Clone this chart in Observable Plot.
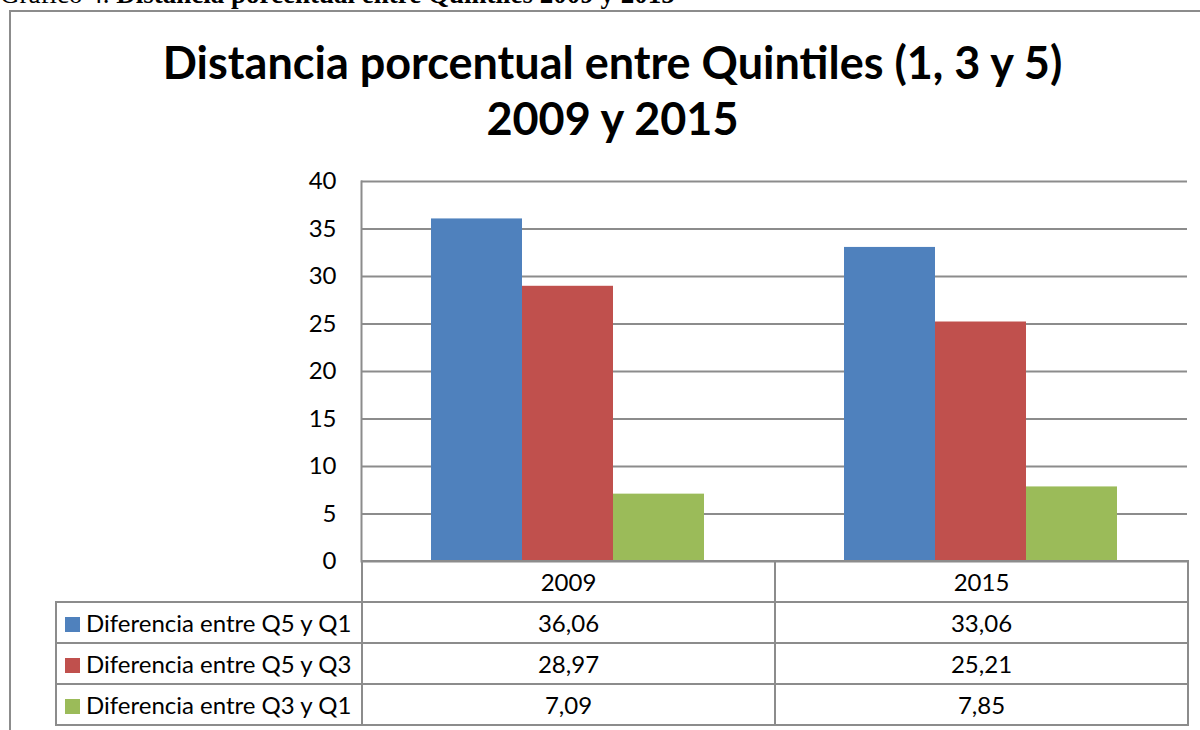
<!DOCTYPE html>
<html><head><meta charset="utf-8">
<script src="https://cdn.jsdelivr.net/npm/d3@7"></script>
<script src="https://cdn.jsdelivr.net/npm/@observablehq/plot@0.6"></script>
<style>
html,body{margin:0;padding:0;background:#fff;width:1200px;height:730px;overflow:hidden;position:relative;}
#top{position:absolute;left:0;top:-21px;font-family:"Liberation Serif",serif;font-size:27px;line-height:30px;color:#000;white-space:nowrap;}
#box{position:absolute;left:9px;top:10px;width:1200px;height:740px;border-left:2px solid #8c8c8c;border-top:2px solid #8c8c8c;box-sizing:border-box;background:#fff;}
#title{position:absolute;left:0;width:1225px;top:34px;text-align:center;font-family:Lato,"Open Sans",sans-serif;font-weight:bold;font-size:45px;line-height:56px;color:#000;}
#chart{position:absolute;left:0;top:170px;}
#tbl{position:absolute;left:55px;top:560px;border-collapse:collapse;font-family:Lato,"Open Sans",sans-serif;font-size:24px;color:#000;table-layout:fixed;}
#tbl tr{height:41px;}
#tbl td{border:2px solid #8c8c8c;padding:0;text-align:center;}
#tbl td.lab{text-align:left;padding-left:8px;white-space:nowrap;}
#tbl td.blank{border-top:none;border-left:none;}
.sw{display:inline-block;width:15px;height:15px;margin-right:6px;vertical-align:0px;}
</style></head>
<body>
<div id="box"></div>
<div id="top">Gráfico 4. <b>Distancia porcentual entre Quintiles 2009 y 2015</b></div>
<div id="title">Distancia porcentual entre Quintiles (1, 3 y 5)<br>2009 y 2015</div>
<div id="chart"></div>
<table id="tbl"></table>
<script>
const years = ["2009", "2015"];
const series = ["Diferencia entre Q5 y Q1", "Diferencia entre Q5 y Q3", "Diferencia entre Q3 y Q1"];
const colors = ["#4F81BD", "#C0504D", "#9BBB59"];
const values2009 = [36.06, 28.97, 7.09];
const values2015 = [33.06, 25.21, 7.85];
const yTicks = [0, 5, 10, 15, 20, 25, 30, 35, 40];

const valuesByYear = {"2009": values2009, "2015": values2015};
const data = [];
for (const yr of years) series.forEach((s, i) => data.push({year: yr, series: s, value: valuesByYear[yr][i]}));

const plot = Plot.plot({
  width: 1200,
  height: 421,
  marginLeft: 361,
  marginRight: 13,
  marginTop: 11,
  marginBottom: 30,
  style: {fontFamily: "Lato, 'Open Sans', sans-serif", fontSize: "24px", color: "#000", background: "transparent", overflow: "visible"},
  fx: {domain: years, padding: 0, axis: null},
  x: {domain: series, paddingInner: 0, paddingOuter: 0.755, axis: null},
  y: {domain: [0, 40], ticks: yTicks, label: null},
  color: {domain: series, range: colors},
  marks: [
    Plot.gridY(yTicks, {stroke: "#8c8c8c", strokeOpacity: 1, strokeWidth: 2}),
    Plot.barY(data, {fx: "year", x: "series", y: "value", fill: "series", inset: 0}),
    Plot.axisY(yTicks, {tickSize: 0, tickPadding: 25, fontSize: 24, fill: "#000"}),
    Plot.frame({anchor: "left", stroke: "#8c8c8c", strokeWidth: 2, facet: "super"})
  ]
});
document.getElementById("chart").appendChild(plot);

// data table
const tbl = document.getElementById("tbl");
const cg = document.createElement("colgroup");
[306, 413, 413].forEach(w => { const c = document.createElement("col"); c.style.width = w + "px"; cg.appendChild(c); });
tbl.appendChild(cg);
const hr = document.createElement("tr");
const blank = document.createElement("td"); blank.className = "blank"; hr.appendChild(blank);
years.forEach(y => { const td = document.createElement("td"); td.textContent = y; hr.appendChild(td); });
tbl.appendChild(hr);
series.forEach((s, i) => {
  const tr = document.createElement("tr");
  const lab = document.createElement("td"); lab.className = "lab";
  const sw = document.createElement("span"); sw.className = "sw"; sw.style.background = colors[i];
  lab.appendChild(sw); lab.appendChild(document.createTextNode(s));
  tr.appendChild(lab);
  years.forEach(y => {
    const td = document.createElement("td");
    td.textContent = valuesByYear[y][i].toFixed(2).replace(".", ",");
    tr.appendChild(td);
  });
  tbl.appendChild(tr);
});
</script>
</body></html>
